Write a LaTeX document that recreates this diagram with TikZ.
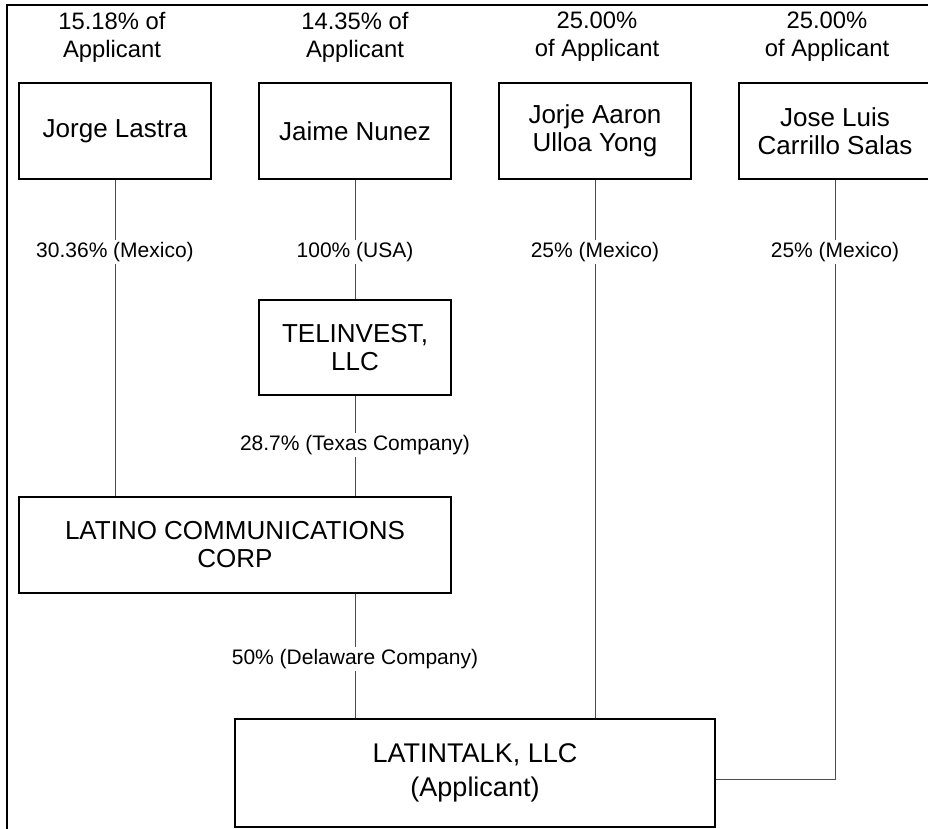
\documentclass[tikz,border=0pt]{standalone}
\usepackage{fontspec}
\setmainfont{Liberation Sans}
\begin{document}
\begin{tikzpicture}[x=1pt,y=-1pt,
  box/.style={draw=black,line width=1.6pt,minimum width=192pt,minimum height=96pt,inner sep=0pt,align=center,font=\fontsize{26}{28}\selectfont},
  conn/.style={draw=black!70,line width=1pt},
  lbl/.style={fill=white,inner sep=2pt,font=\fontsize{21}{24}\selectfont},
  toplbl/.style={align=center,inner sep=0pt,font=\fontsize{23.8}{28}\selectfont},
  frame/.style={draw=black,line width=2pt}]
\useasboundingbox (0,0) rectangle (928,829);
% frame
\coordinate (f1) at (7,829);
\coordinate (f2) at (7,5);
\coordinate (f3) at (930,5);
\draw[frame] (f1) -- (f2) -- (f3);
% top labels
\node[toplbl] (t1) at (112,37) {15.18\% of\\Applicant};
\node[toplbl] (t2) at (355,37) {14.35\% of\\Applicant};
\node[toplbl] (t3) at (597,37) {25.00\%\\of Applicant};
\node[toplbl] (t4) at (827,37) {25.00\%\\of Applicant};
% boxes
\node[box] (A) at (115,131) {Jorge Lastra};
\node[box] (B) at (355,131) {Jaime Nunez};
\node[box] (C) at (595,131) {Jorje Aaron\\Ulloa Yong};
\node[box] (D) at (835,131) {Jose Luis\\Carrillo Salas};
\node[box,minimum height=95pt] (T) at (355,347.5) {TELINVEST,\\LLC};
\node[box,minimum width=432pt] (L) at (235,545) {LATINO COMMUNICATIONS\\CORP};
\node[box,minimum width=480pt,minimum height=108pt,font=\fontsize{27}{34}\selectfont] (K) at (475,773) {LATINTALK, LLC\\(Applicant)};
% connectors
\draw[conn] (A.south) -- (A.south |- L.north);
\draw[conn] (B.south) -- (T.north);
\draw[conn] (T.south) -- (T.south |- L.north);
\draw[conn] (T.south |- L.south) -- (T.south |- K.north);
\draw[conn] (C.south) -- (C.south |- K.north);
\coordinate (dk) at (835,779);
\draw[conn] (D.south) -- (dk) -- (dk -| K.east);
% labels
\node[lbl] (la) at (115,252) {30.36\% (Mexico)};
\node[lbl] (lb) at (355,252) {100\% (USA)};
\node[lbl] (lc) at (595,252) {25\% (Mexico)};
\node[lbl] (ld) at (835,252) {25\% (Mexico)};
\node[lbl] (lt) at (355,445) {28.7\% (Texas Company)};
\node[lbl] (ll) at (355,659) {50\% (Delaware Company)};
\end{tikzpicture}
\end{document}
